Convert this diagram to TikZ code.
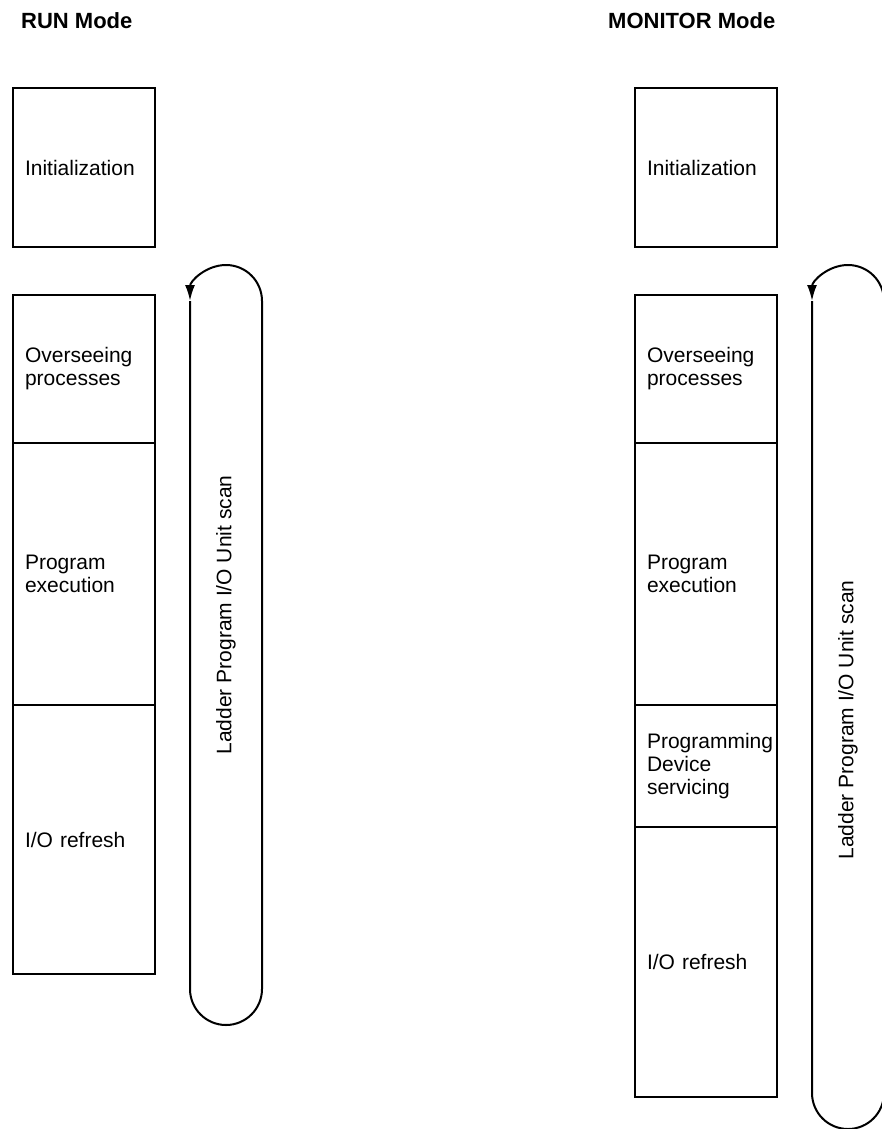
\documentclass[tikz,border=0pt]{standalone}
\usepackage{fontspec}
\setmainfont{Liberation Sans}
\usetikzlibrary{arrows.meta, positioning}

\begin{document}
\begin{tikzpicture}
[x=1pt, y=1pt,
  every node/.style={font=\fontsize{21}{23}\selectfont},
  phase/.style={draw, line width=2pt, outer sep=0pt, minimum width=142pt,
    text width=118pt, inner xsep=12pt, align=left},
  modetitle/.style={font=\fontsize{22}{26}\selectfont\bfseries, anchor=base west, inner sep=0pt},
  scanloop/.style={line width=2pt, -{Latex[length=16pt, width=10pt]}},
  scanlabel/.style={rotate=90},
  >=Latex]

\clip (0,0) rectangle (882,-1129);

% RUN mode
\node[modetitle] (runtitle) at (21,-29) {RUN Mode};
\node[phase, anchor=north west, minimum height=159pt] (runinit) at (13,-88) {Initialization};
\node[phase, anchor=north west, minimum height=148pt] (runover) at (13,-295) {Overseeing\\processes};
\node[phase, below=0pt of runover, minimum height=262pt] (runexec) {Program\\execution};
\node[phase, below=0pt of runexec, minimum height=269pt] (runio) {I/O refresh};

\coordinate (runtop) at (226,-301);
\coordinate (runbot) at (226,-989);
\draw[scanloop] ([xshift=-36pt]runtop) -- ([xshift=-36pt]runbot)
  arc[start angle=180, end angle=360, radius=36pt]
  -- ([xshift=36pt]runtop)
  arc[start angle=0, end angle=180, radius=36pt];
\node[scanlabel] (runscan) at (226,-615) {Ladder Program I/O Unit scan};

% MONITOR mode
\node[modetitle] (montitle) at (608,-29) {MONITOR Mode};
\node[phase, anchor=north west, minimum height=159pt] (moninit) at (635,-88) {Initialization};
\node[phase, anchor=north west, minimum height=148pt] (monover) at (635,-295) {Overseeing\\processes};
\node[phase, below=0pt of monover, minimum height=262pt] (monexec) {Program\\execution};
\node[phase, below=0pt of monexec, minimum height=122pt] (mondev) {Programming\\Device\\servicing};
\node[phase, below=0pt of mondev, minimum height=270pt] (monio) {I/O refresh};

\coordinate (montop) at (848,-301);
\coordinate (monbot) at (848,-1093);
\draw[scanloop] ([xshift=-36pt]montop) -- ([xshift=-36pt]monbot)
  arc[start angle=180, end angle=360, radius=36pt]
  -- ([xshift=36pt]montop)
  arc[start angle=0, end angle=180, radius=36pt];
\node[scanlabel] (monscan) at (848,-720) {Ladder Program I/O Unit scan};

\end{tikzpicture}
\end{document}
